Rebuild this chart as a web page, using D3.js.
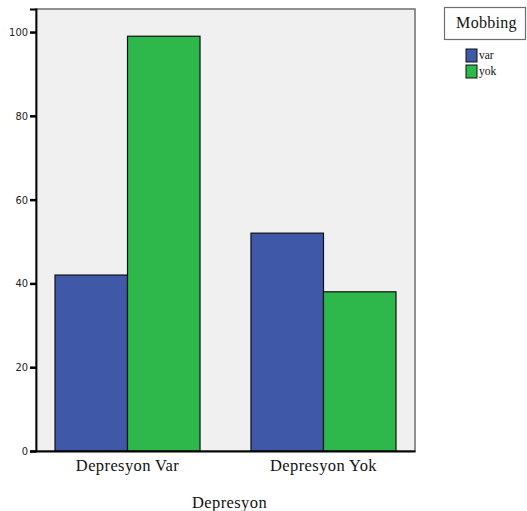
<!DOCTYPE html>
<html>
<head>
<meta charset="utf-8">
<script src="https://cdn.jsdelivr.net/npm/d3@7"></script>
<style>
  body { margin: 0; background: #fff; }
  svg { display: block; }
</style>
</head>
<body>
<svg id="chart" width="527" height="511"></svg>
<script>
// chart data
var categories = ['Depresyon Var', 'Depresyon Yok']
var groups = ['var', 'yok']
var varValues = [42, 52]
var yokValues = [99, 38]
var yTicks = [0, 20, 40, 60, 80, 100]
var colors = { var: '#3f58a8', yok: '#2eb84b' }

// plot box (note: "top" is reserved on window, so use plotTop)
var plotLeft = 36, plotRight = 415, plotTop = 9, plotBottom = 451
var serif = '"Liberation Serif", "Times New Roman", serif'

var svg = d3.select('svg#chart')

var x0 = d3.scaleBand()
  .domain(categories)
  .range([plotLeft, plotRight])
  .paddingInner(0.26)
  .paddingOuter(0.097)

var x1 = d3.scaleBand()
  .domain(groups)
  .range([0, x0.bandwidth()])

var y = d3.scaleLinear()
  .domain([0, 105.5])
  .range([plotBottom, plotTop])

// plot background + frame
svg.append('rect')
  .attr('x', plotLeft).attr('y', plotTop)
  .attr('width', plotRight - plotLeft).attr('height', plotBottom - plotTop)
  .attr('fill', '#f0f0f0')
  .attr('stroke', '#6e6e6e')
  .attr('stroke-width', 1.5)

var rows = categories.map(function(c, i) {
  return { cat: c, vals: [ { g: 'var', v: varValues[i] }, { g: 'yok', v: yokValues[i] } ] }
})

svg.selectAll('g.grp')
  .data(rows)
  .enter().append('g').attr('class', 'grp')
  .attr('transform', function(d) { return 'translate(' + x0(d.cat) + ',0)' })
  .selectAll('rect')
  .data(function(d) { return d.vals })
  .enter().append('rect')
    .attr('x', function(d) { return x1(d.g) })
    .attr('y', function(d) { return y(d.v) })
    .attr('width', x1.bandwidth())
    .attr('height', function(d) { return plotBottom - y(d.v) })
    .attr('fill', function(d) { return colors[d.g] })
    .attr('stroke', '#111')
    .attr('stroke-width', 1.2)

// y axis
var yAxis = svg.append('g')
  .attr('transform', 'translate(' + plotLeft + ',0)')
  .call(d3.axisLeft(y).tickValues(yTicks).tickSize(6).tickPadding(2).tickFormat(d3.format('d')))
yAxis.select('.domain').attr('stroke', '#000').attr('stroke-width', 1.8)
yAxis.selectAll('.tick line').attr('stroke', '#000').attr('stroke-width', 2.5)
yAxis.selectAll('.tick text')
  .style('font-family', '"Liberation Sans Narrow", "DejaVu Sans Condensed", Arial, sans-serif')
  .style('font-size', '11px')
  .attr('fill', '#222')

// x axis
var xAxis = svg.append('g')
  .attr('transform', 'translate(0,' + plotBottom + ')')
  .call(d3.axisBottom(x0).tickSize(0).tickPadding(8.5))
xAxis.select('.domain').attr('stroke', '#000').attr('stroke-width', 1.8)
xAxis.selectAll('.tick text')
  .style('font-family', serif)
  .style('font-size', '16.5px')
  .style('letter-spacing', '0.4px')
  .attr('fill', '#111')

svg.append('text')
  .attr('x', 229.5)
  .attr('y', 507.5)
  .attr('text-anchor', 'middle')
  .style('font-family', serif)
  .style('font-size', '16.5px')
  .style('letter-spacing', '0.4px')
  .attr('fill', '#111')
  .text('Depresyon')

// legend
svg.append('rect')
  .attr('x', 444.5).attr('y', 7.5)
  .attr('width', 81).attr('height', 32)
  .attr('fill', '#fff')
  .attr('stroke', '#6e6e6e')
  .attr('stroke-width', 1.2)
svg.append('text')
  .attr('x', 486.5).attr('y', 28)
  .attr('text-anchor', 'middle')
  .style('font-family', serif)
  .style('font-size', '16px')
  .style('letter-spacing', '0.3px')
  .attr('fill', '#111')
  .text('Mobbing')

var leg = svg.selectAll('g.leg')
  .data(groups)
  .enter().append('g').attr('class', 'leg')
  .attr('transform', function(d, i) { return 'translate(466,' + (49 + i * 16) + ')' })
leg.append('rect')
  .attr('width', 11).attr('height', 13)
  .attr('fill', function(d) { return colors[d] })
  .attr('stroke', '#111')
  .attr('stroke-width', 1)
leg.append('text')
  .attr('x', 13).attr('y', 10)
  .style('font-family', serif)
  .style('font-size', '11.5px')
  .attr('fill', '#111')
  .text(function(d) { return d })
</script>
</body>
</html>
